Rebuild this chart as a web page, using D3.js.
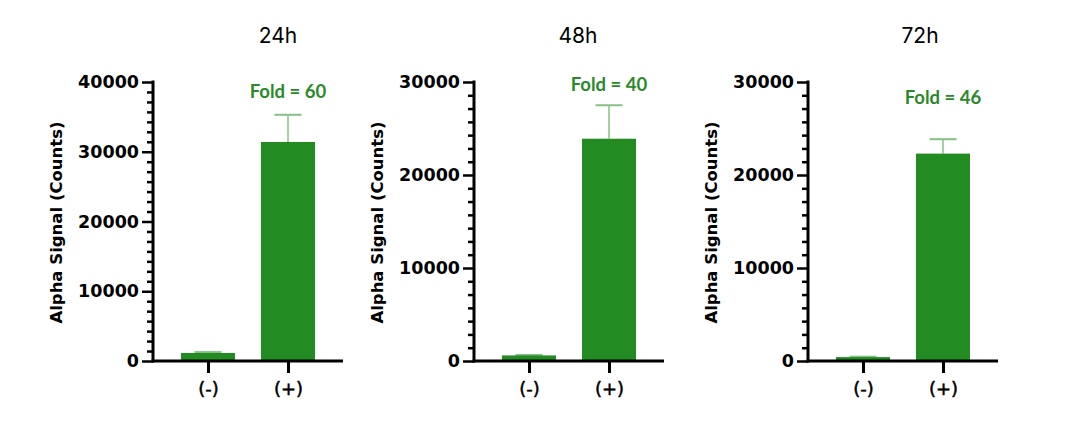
<!DOCTYPE html>
<html><head><meta charset="utf-8">
<script src="https://cdn.jsdelivr.net/npm/d3@7"></script>
<style>html,body{margin:0;padding:0;background:#fff;}svg{display:block;}</style>
</head><body>
<svg id="chart" width="1080" height="442"></svg>
<script>
// ---- data ----
const panels = ["24h", "48h", "72h"];
const categories = ["(-)", "(+)"];
const meanMinus = [1150, 600, 420];
const meanPlus = [31400, 23900, 22300];
const errMinus = [1280, 650, 460];
const errPlus = [35300, 27500, 23850];
const yMax = [40000, 30000, 30000];
const yTicks = [[0, 10000, 20000, 30000, 40000], [0, 10000, 20000, 30000], [0, 10000, 20000, 30000]];
const foldLabels = ["Fold = 60", "Fold = 40", "Fold = 46"];

// ---- layout (not data) ----
const axisX = [153, 474, 808];
const plotW = 190;
const y0 = 361, y1 = 82;
const titleX = [278, 578, 920];
const foldY = [91, 84, 97];
const green = "#228B22";
const errColor = "#86c086";

const svg = d3.select("#chart");

panels.forEach((p, i) => {
  const g = svg.append("g");
  const x = d3.scalePoint().domain(categories).range([axisX[i], axisX[i] + plotW]).padding(0.6875);
  const y = d3.scaleLinear().domain([0, yMax[i]]).range([y0, y1]);
  const bw = 54;
  const vals = [meanMinus[i], meanPlus[i]];
  const errs = [errMinus[i], errPlus[i]];

  // error bars (drawn first, behind bars)
  categories.forEach((c, k) => {
    const cx = x(c);
    g.append("line").attr("x1", cx).attr("x2", cx).attr("y1", y(vals[k])).attr("y2", y(errs[k]))
      .attr("stroke", errColor).attr("stroke-width", 1.5);
    g.append("line").attr("x1", cx - 13.5).attr("x2", cx + 13.5).attr("y1", y(errs[k])).attr("y2", y(errs[k]))
      .attr("stroke", errColor).attr("stroke-width", 2);
  });

  // bars
  g.selectAll("rect.bar").data(categories).enter().append("rect")
    .attr("class", "bar")
    .attr("x", c => x(c) - bw / 2)
    .attr("width", bw)
    .attr("y", (c, k) => y(vals[k]))
    .attr("height", (c, k) => y(0) - y(vals[k]))
    .attr("fill", green);

  // minor ticks
  const step = yTicks[i][1] / 7;
  const minor = d3.range(0, yMax[i] + 1, step).filter(v => Math.abs(v / yTicks[i][1] - Math.round(v / yTicks[i][1])) > 1e-6);
  const yAxisMinor = d3.axisLeft(y).tickValues(minor).tickSize(6).tickFormat("");
  const gm = g.append("g").attr("transform", `translate(${axisX[i]},0)`).call(yAxisMinor);
  gm.select(".domain").remove();
  gm.selectAll("line").attr("stroke", "#000").attr("stroke-width", 2.5);

  // major y axis
  const yAxis = d3.axisLeft(y).tickValues(yTicks[i]).tickSize(11).tickPadding(3).tickFormat(d3.format("d"));
  const ga = g.append("g").attr("transform", `translate(${axisX[i]},0)`).call(yAxis);
  ga.select(".domain").attr("d", `M0,${y1 - 1.5}V${y0 + 1.5}`).attr("stroke", "#000").attr("stroke-width", 3);
  ga.selectAll("line").attr("stroke", "#000").attr("stroke-width", 2.5);
  ga.selectAll("text").attr("font-family", "DejaVu Sans").attr("font-weight", "bold")
    .attr("font-size", 17.5).attr("fill", "#000");

  // x axis
  const xAxis = d3.axisBottom(x).tickSize(12).tickPadding(9);
  const gx = g.append("g").attr("transform", `translate(0,${y0})`).call(xAxis);
  gx.select(".domain").attr("d", `M${axisX[i] - 1.5},0H${axisX[i] + plotW}`).attr("stroke", "#000").attr("stroke-width", 3);
  gx.selectAll("line").attr("stroke", "#000").attr("stroke-width", 3);
  gx.selectAll("text").attr("font-family", "DejaVu Sans").attr("font-weight", "normal")
    .attr("font-size", 18).attr("fill", "#000").attr("stroke", "#000").attr("stroke-width", 0.5);

  // y label
  g.append("text")
    .attr("transform", `translate(${axisX[i] - 97},${(y0 + y1) / 2 + 1}) rotate(-90)`)
    .attr("text-anchor", "middle").attr("dominant-baseline", "central")
    .attr("font-family", "DejaVu Sans").attr("font-weight", "bold").attr("font-size", 16.5)
    .attr("fill", "#000").text("Alpha Signal (Counts)");

  // title
  g.append("text").attr("x", titleX[i]).attr("y", 35).attr("text-anchor", "middle")
    .attr("dominant-baseline", "central")
    .attr("font-family", "Inter, DejaVu Sans").attr("font-size", 21).attr("fill", "#000").text(p);

  // fold label
  g.append("text").attr("x", x(categories[1])).attr("y", foldY[i]).attr("text-anchor", "middle")
    .attr("dominant-baseline", "central")
    .attr("font-family", "Lato, DejaVu Sans").attr("font-weight", "bold").attr("font-size", 18.5)
    .attr("fill", "#2a8a2a").text(foldLabels[i]);
});
</script>
</body></html>
